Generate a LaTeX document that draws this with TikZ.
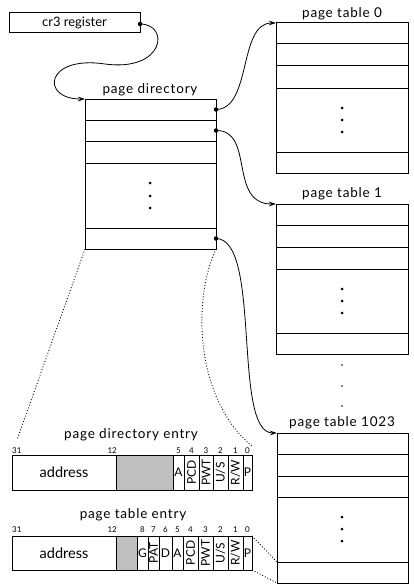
\documentclass[tikz,border=0pt]{standalone}
\usepackage{fontspec}
\setmainfont{Lato}
\usetikzlibrary{arrows.meta}
\begin{document}
\begin{tikzpicture}[x=1pt,y=-1pt,
  box/.style={draw,line width=1pt,inner sep=0pt,outer sep=0pt,anchor=north west},
  rowline/.style={line width=1pt},
  fldline/.style={line width=0.7pt},
  lbl/.style={font=\fontsize{13.5}{14}\selectfont\addfontfeature{LetterSpace=6}, inner sep=0pt, anchor=base},
  bitnum/.style={font=\fontsize{8}{9}\selectfont, inner sep=0pt, anchor=base},
  fld/.style={font=\fontsize{12}{13}\selectfont, inner sep=0pt},
  addr/.style={font=\fontsize{14.5}{15}\selectfont, inner sep=0pt},
  vfld/.style={fld, rotate=90},
  link/.style={line width=0.8pt, -{Stealth[length=7pt,width=4.5pt]}},
  mapline/.style={line width=0.9pt, dotted},
  ptr/.style={circle, fill, inner sep=0pt, minimum size=4.5pt},
  ell/.style={circle, fill, inner sep=0pt, minimum size=3pt},
  smallell/.style={circle, fill, inner sep=0pt, minimum size=1.8pt}]

\useasboundingbox (0,0) rectangle (413,586);

% ---- cr3 register ----
\node[box, minimum width=131pt, minimum height=20pt] (cr3) at (9,13) {};
\node[font=\fontsize{13}{14}\selectfont, inner sep=0pt] (cr3lbl) at (cr3.center) {cr3 register};
\node[ptr] (cr3p) at (140,24) {};

% ---- page directory ----
\node[lbl] (pdlbl) at (150,93) {page directory};
\node[box, minimum width=131pt, minimum height=150pt] (pd) at (85,99) {};
\foreach \y in {120,141,163,228} \draw[rowline] (85,\y) -- (216,\y);
\foreach \y [count=\i] in {183,196,208} \node[ell] (pdd\i) at (150,\y) {};
\node[ptr] (pd0) at (216,109.5) {};
\node[ptr] (pd1) at (216,130.5) {};
\node[ptr] (pdn) at (216,238.5) {};

% ---- page table 0 ----
\node[lbl] (pt0lbl) at (342,17.5) {page table 0};
\node[box, minimum width=132pt, minimum height=150pt] (pt0) at (276,23) {};
\foreach \y in {44,66,88,152} \draw[rowline] (276,\y) -- (408,\y);
\foreach \y [count=\i] in {108,120,132} \node[ell] (pt0d\i) at (342,\y) {};

% ---- page table 1 ----
\node[lbl] (pt1lbl) at (342,197.5) {page table 1};
\node[box, minimum width=132pt, minimum height=150pt] (pt1) at (276,204) {};
\foreach \y in {225,247,269,333} \draw[rowline] (276,\y) -- (408,\y);
\foreach \y [count=\i] in {289,301,313} \node[ell] (pt1d\i) at (342,\y) {};

% ---- ellipsis between tables ----
\foreach \y [count=\i] in {365,386,406} \node[smallell] (gap\i) at (342,\y) {};

% ---- page table 1023 ----
\node[lbl] (ptnlbl) at (342,426) {page table 1023};
\node[box, minimum width=131pt, minimum height=150pt] (ptn) at (277,433) {};
\foreach \y in {454,476,497,562} \draw[rowline] (277,\y) -- (408,\y);
\foreach \y [count=\i] in {517,529,541} \node[ell] (ptnd\i) at (342,\y) {};

% ---- pointers ----
\draw[link] (cr3p.center) .. controls (170,24) and (165,72) .. (105,64)
            .. controls (45,55) and (40,99) .. (pd.north west);
\draw[link] (pd0.center) .. controls (252,109) and (238,23) .. (pt0.north west);
\draw[link] (pd1.center) .. controls (255,130) and (228,204) .. (pt1.north west);
\draw[link] (pdn.center) .. controls (262,239) and (232,433) .. (ptn.north west);

% ---- page directory entry ----
\node[lbl] (pdelbl) at (131,438) {page directory entry};
\fill[black!25] (116,455) rectangle (173,490);
\node[box, minimum width=240pt, minimum height=35pt] (pde) at (12,455) {};
\foreach \x in {116,173,184,199,213,228,243} \draw[fldline] (\x,455) -- (\x,490);
\node[addr] (pdeaddr) at (64,472.5) {address};
\node[fld] (pdeA) at (178.5,472.5) {A};
\node[vfld] (pdePCD) at (191.5,472.5) {PCD};
\node[vfld] (pdePWT) at (206,472.5) {PWT};
\node[vfld] (pdeUS) at (220.5,472.5) {U/S};
\node[vfld] (pdeRW) at (235.5,472.5) {R/W};
\node[fld] (pdeP) at (247.5,472.5) {P};
\node[bitnum, anchor=base west] (pdeb31) at (12,453) {31};
\node[bitnum, anchor=base east] (pdeb12) at (117,453) {12};
\foreach \x/\b in {178.5/5,191.5/4,206/3,220.5/2,235.5/1,247.5/0}
  \node[bitnum] (pdeb\b) at (\x,453) {\b};

% ---- page table entry ----
\node[lbl] (ptelbl) at (133,518) {page table entry};
\fill[black!25] (116,536) rectangle (137,570);
\node[box, minimum width=240pt, minimum height=34pt] (pte) at (12,536) {};
\foreach \x in {116,137,148,159,172,183,198,213,228,243} \draw[fldline] (\x,536) -- (\x,570);
\node[addr] (pteaddr) at (64,553) {address};
\node[fld] (pteG) at (142.5,553) {G};
\node[vfld] (ptePAT) at (153.5,553) {PAT};
\node[fld] (pteD) at (165.5,553) {D};
\node[fld] (pteA) at (177.5,553) {A};
\node[vfld] (ptePCD) at (190.5,553) {PCD};
\node[vfld] (ptePWT) at (205.5,553) {PWT};
\node[vfld] (pteUS) at (220.5,553) {U/S};
\node[vfld] (pteRW) at (235.5,553) {R/W};
\node[fld] (pteP) at (247.5,553) {P};
\node[bitnum, anchor=base west] (pteb31) at (12,532) {31};
\node[bitnum, anchor=base east] (pteb12) at (117,532) {12};
\foreach \x/\b in {142.5/8,153.5/7,165.5/6,177.5/5,190.5/4,205.5/3,220.5/2,235.5/1,247.5/0}
  \node[bitnum] (pteb\b) at (\x,532) {\b};

% ---- expansion guides ----
\draw[mapline] (pd.south west) -- (17,440);
\draw[mapline] (pd.south east) .. controls (192,300) and (195,400) .. (253,447);
\draw[mapline] (pte.north east) -- (ptn.west |- 0,562);
\draw[mapline] (pte.south east) -- (ptn.south west);
\end{tikzpicture}
\end{document}
